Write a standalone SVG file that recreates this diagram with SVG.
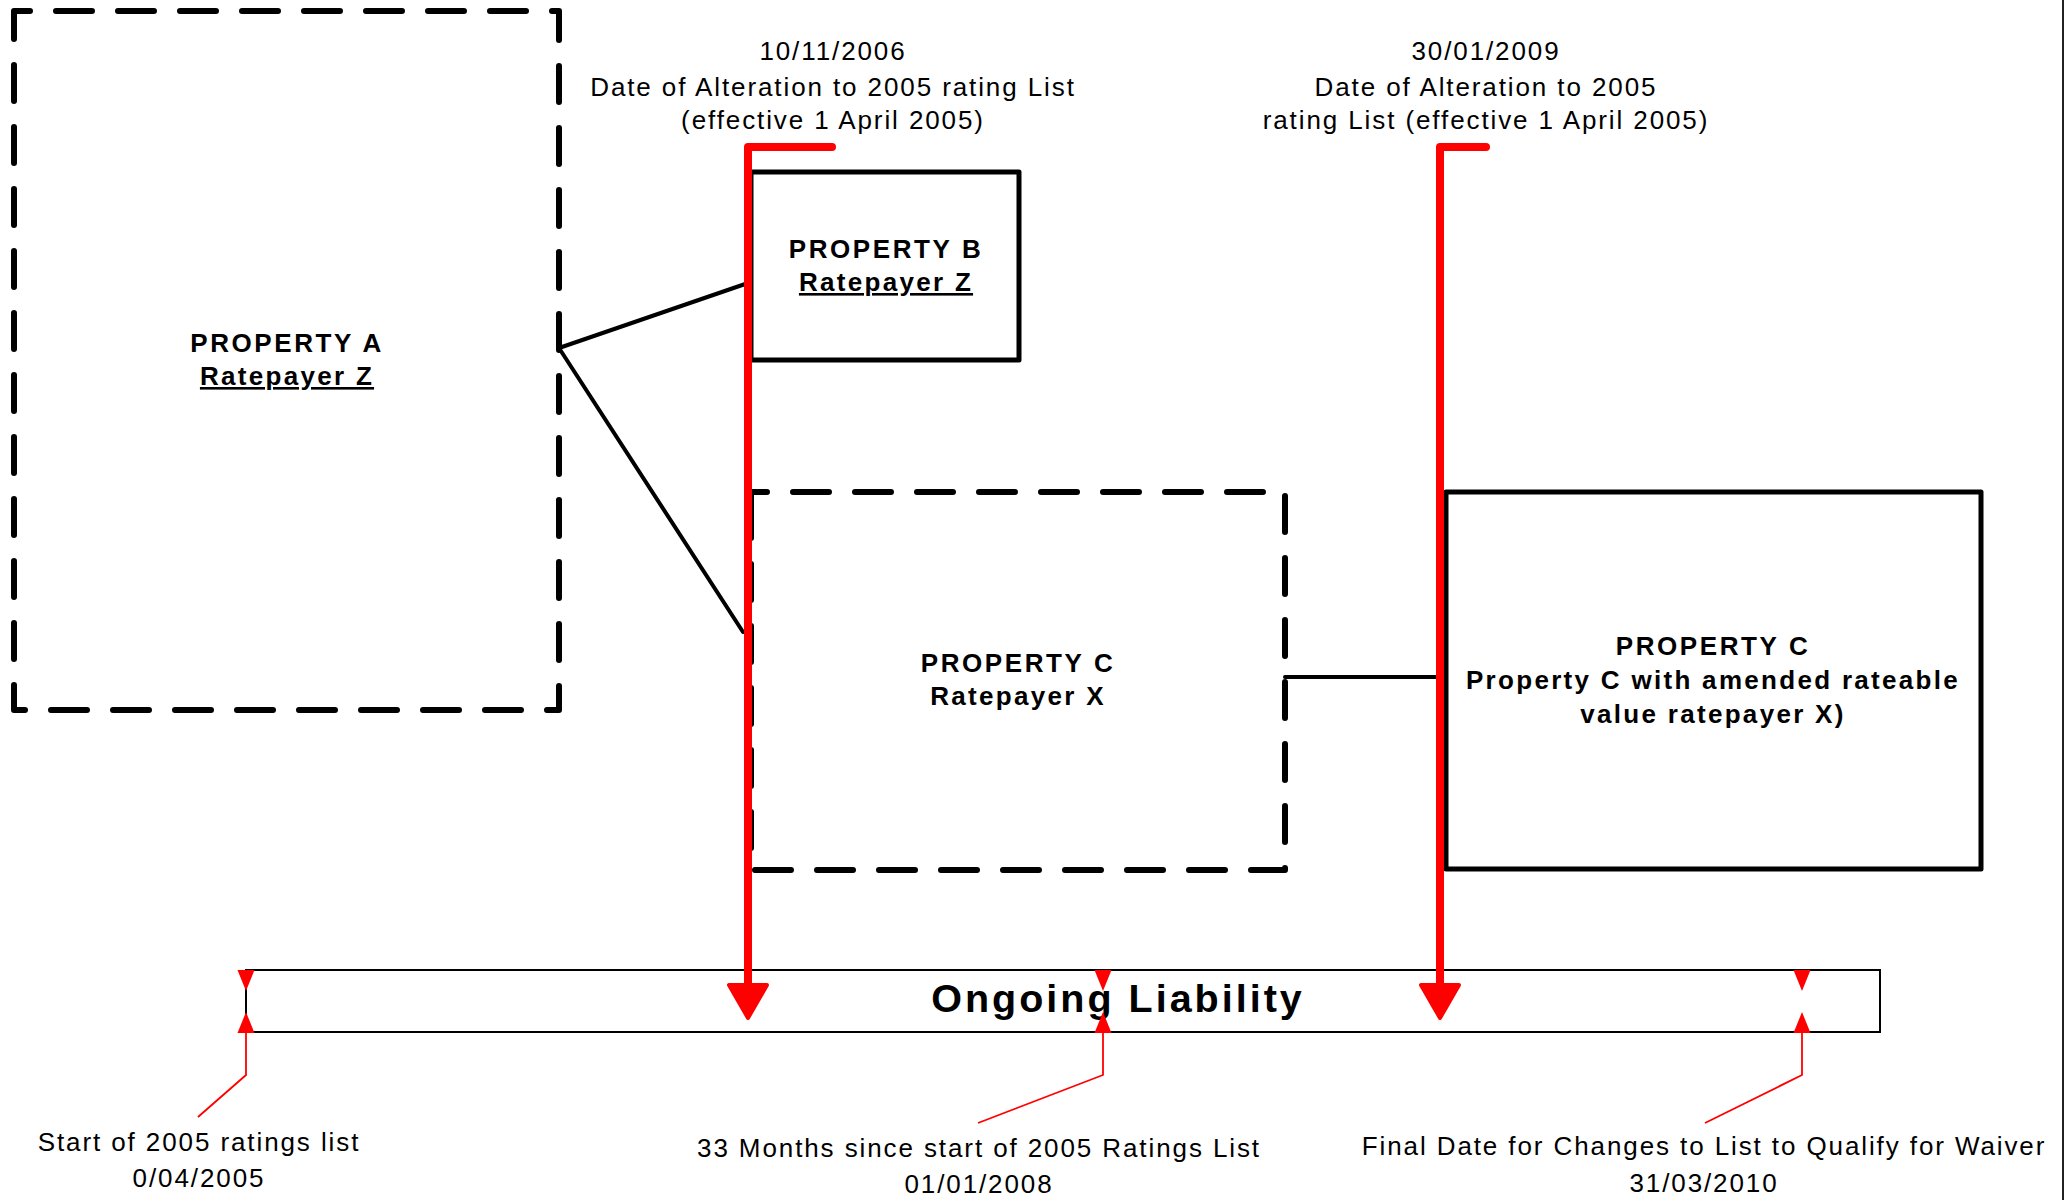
<svg xmlns="http://www.w3.org/2000/svg" width="2066" height="1200" viewBox="0 0 2066 1200">
  <style>
    .t { font-family: "Liberation Sans", Arial, sans-serif; font-size: 26px; letter-spacing: 1.9px; fill: #000; text-anchor: middle; }
    .b { font-family: "Liberation Sans", Arial, sans-serif; font-size: 26px; font-weight: bold; letter-spacing: 2.3px; fill: #000; text-anchor: middle; }
    .u { text-decoration: underline; }
    .dash { fill: none; stroke: #000; stroke-width: 6; stroke-dasharray: 36 26; stroke-linecap: round; stroke-linejoin: round; }
    .solid { fill: none; stroke: #000; stroke-width: 5; stroke-linejoin: round; }
    .link { fill: none; stroke: #000; stroke-width: 4; stroke-linecap: round; }
    .alter { fill: none; stroke: #ff0000; stroke-width: 8; stroke-linecap: round; stroke-linejoin: round; }
    .head { fill: #ff0000; stroke: #ff0000; stroke-width: 4; stroke-linejoin: round; }
    .tick { fill: #ff0000; }
    .lead { fill: none; stroke: #ff0000; stroke-width: 1.8; }
  </style>

  <rect width="2066" height="1200" fill="#fff"/>

  <!-- page edge -->
  <line x1="2063" y1="0" x2="2063" y2="1200" stroke="#222" stroke-width="2"/>

  <!-- alteration headings -->
  <g id="label-alteration-2006">
    <text class="t" x="833" y="60">10/11/2006</text>
    <text class="t" x="833" y="96">Date of Alteration to 2005 rating List</text>
    <text class="t" x="833" y="129">(effective 1 April 2005)</text>
  </g>
  <g id="label-alteration-2009">
    <text class="t" x="1486" y="60">30/01/2009</text>
    <text class="t" x="1486" y="96">Date of Alteration to 2005</text>
    <text class="t" x="1486" y="129">rating List (effective 1 April 2005)</text>
  </g>

  <!-- properties -->
  <g id="property-a">
    <path class="dash" d="M14,31 V11 H559 V710 H14 Z"/>
    <text class="b" x="287" y="352" style="letter-spacing:2.6px">PROPERTY A</text>
    <text class="b u" x="287" y="385">Ratepayer Z</text>
  </g>

  <g id="property-b">
    <rect class="solid" x="751" y="172" width="268" height="188"/>
    <text class="b" x="886" y="258" style="letter-spacing:2.6px">PROPERTY B</text>
    <text class="b u" x="886" y="291">Ratepayer Z</text>
  </g>

  <g id="property-c-x">
    <path class="dash" d="M751,512 V492 H1285 V870 H751 Z"/>
    <text class="b" x="1018" y="672" style="letter-spacing:2.6px">PROPERTY C</text>
    <text class="b" x="1018" y="705">Ratepayer X</text>
  </g>

  <g id="property-c-amended">
    <rect class="solid" x="1446" y="492" width="535" height="377"/>
    <text class="b" x="1713" y="655" style="letter-spacing:2.6px">PROPERTY C</text>
    <text class="b" x="1713" y="689">Property C with amended rateable</text>
    <text class="b" x="1713" y="723">value ratepayer X)</text>
  </g>

  <!-- liability timeline -->
  <g id="timeline">
    <rect x="246" y="970" width="1634" height="62" fill="none" stroke="#000" stroke-width="2"/>
    <text x="1118" y="1012" style="font-family:'Liberation Sans', Arial, sans-serif; font-size:39.5px; font-weight:bold; letter-spacing:3px; text-anchor:middle; fill:#000">Ongoing Liability</text>
  </g>

  <g id="connectors">
    <line class="link" x1="559" y1="348" x2="751" y2="282"/>
    <line class="link" x1="559" y1="348" x2="743" y2="632"/>
    <line class="link" x1="1285" y1="677" x2="1440" y2="677"/>

    <!-- alteration dates dropping onto the timeline -->
    <path class="alter" d="M832,147 H748 V990"/>
    <polygon class="head" points="729,985 767,985 748,1018"/>
    <path class="alter" d="M1486,147 H1440 V990"/>
    <polygon class="head" points="1421,985 1459,985 1440,1018"/>

    <!-- timeline markers -->
    <polygon class="tick" points="237.5,970 254.5,970 246,991"/>
    <polygon class="tick" points="237.5,1033 254.5,1033 246,1012"/>
    <polyline class="lead" points="246,1033 246,1075 198,1117"/>

    <polygon class="tick" points="1094.5,970 1111.5,970 1103,991"/>
    <polygon class="tick" points="1094.5,1033 1111.5,1033 1103,1012"/>
    <polyline class="lead" points="1103,1033 1103,1075 978,1123"/>

    <polygon class="tick" points="1793.5,970 1810.5,970 1802,991"/>
    <polygon class="tick" points="1793.5,1033 1810.5,1033 1802,1012"/>
    <polyline class="lead" points="1802,1033 1802,1075 1705,1123"/>
  </g>

  <!-- timeline captions -->
  <g id="label-start">
    <text class="t" x="199" y="1151">Start of 2005 ratings list</text>
    <text class="t" x="199" y="1187">0/04/2005</text>
  </g>
  <g id="label-33-months">
    <text class="t" x="979" y="1157">33 Months since start of 2005 Ratings List</text>
    <text class="t" x="979" y="1193">01/01/2008</text>
  </g>
  <g id="label-final">
    <text class="t" x="1704" y="1155">Final Date for Changes to List to Qualify for Waiver</text>
    <text class="t" x="1704" y="1192">31/03/2010</text>
  </g>
</svg>
